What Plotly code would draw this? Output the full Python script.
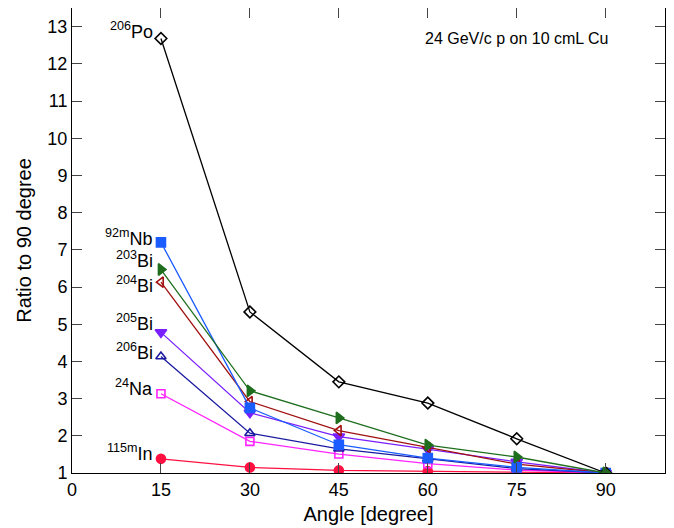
import plotly.graph_objects as go

angles = [15, 30, 45, 60, 75, 90]

po206 = [12.68, 5.33, 3.45, 2.88, 1.92, 1.0]
nb92m = [7.2, 2.75, 1.76, 1.4, 1.15, 1.0]
bi203 = [6.47, 3.21, 2.48, 1.75, 1.43, 1.0]
bi204 = [6.13, 2.92, 2.14, 1.68, 1.24, 1.0]
bi205 = [4.78, 2.62, 1.98, 1.64, 1.3, 1.0]
bi206 = [4.13, 2.07, 1.65, 1.38, 1.12, 1.0]
na24 = [3.13, 1.85, 1.51, 1.25, 1.08, 1.0]
in115m = [1.38, 1.15, 1.07, 1.05, 1.04, 1.0]

labels = ["<sup>115m</sup>In", "<sup>24</sup>Na", "<sup>206</sup>Bi", "<sup>205</sup>Bi",
          "<sup>204</sup>Bi", "<sup>92m</sup>Nb", "<sup>206</sup>Po", "<sup>203</sup>Bi"]
series = [in115m, na24, bi206, bi205, bi204, nb92m, po206, bi203]
colors = ["#ff1040", "#ff22ff", "#1a1aa0", "#7a1fff", "#a01010", "#1a5cff", "#000000", "#1e6e1e"]
symbols = ["circle", "square-open", "triangle-up-open", "triangle-down",
           "triangle-left-open", "square", "diamond-open", "triangle-right"]
sizes = [9, 8, 9, 10, 9, 9, 9, 10]
label_yshift = [6, 6, 5, 10, -2, 5, 8, 10]

FONT = "Liberation Sans, Arial, Helvetica, sans-serif"

fig = go.Figure()
for ys, c, s, sz, lab in zip(series, colors, symbols, sizes, labels):
    fig.add_trace(go.Scatter(
        x=angles, y=ys, mode="lines+markers", name=lab,
        line=dict(color=c, width=1.3),
        marker=dict(symbol=s, size=sz, color=c, line=dict(color=c, width=1.6)),
        showlegend=False,
    ))

for ys, lab, ysh in zip(series, labels, label_yshift):
    fig.add_annotation(
        x=angles[0], y=ys[0], text=lab, showarrow=False,
        xanchor="right", yanchor="middle", xshift=-6, yshift=ysh,
        font=dict(family=FONT, size=18, color="black"),
    )

fig.add_annotation(
    x=0.75, y=0.935, xref="paper", yref="paper", text="24 GeV/c p on 10 cmL Cu",
    showarrow=False, xanchor="center", yanchor="middle",
    font=dict(family=FONT, size=16, color="black"),
)

axis_common = dict(
    showgrid=False, zeroline=False, showline=True, linecolor="black", linewidth=1,
    mirror="allticks", ticks="inside", ticklen=10, tickcolor="#444", tickwidth=1.2,
    tickfont=dict(family=FONT, size=18, color="black"),
)

# page body has an 8px margin, so the figure is offset by 8px right and down
fig.update_layout(
    width=666, height=520,
    margin=dict(l=64, r=9, t=0, b=55),
    paper_bgcolor="white", plot_bgcolor="white",
    font=dict(family=FONT, color="black"),
    xaxis=dict(range=[0, 100], tickmode="array", tickvals=[0, 15, 30, 45, 60, 75, 90],
               title=dict(text="Angle [degree]", standoff=8,
                          font=dict(family=FONT, size=20, color="black")),
               **axis_common),
    yaxis=dict(range=[1, 13.5], tickmode="array", tickvals=list(range(1, 14)),
               title=dict(text="Ratio to 90 degree", standoff=10,
                          font=dict(family=FONT, size=20, color="black")),
               **axis_common),
)

fig.write_html("out.html")
